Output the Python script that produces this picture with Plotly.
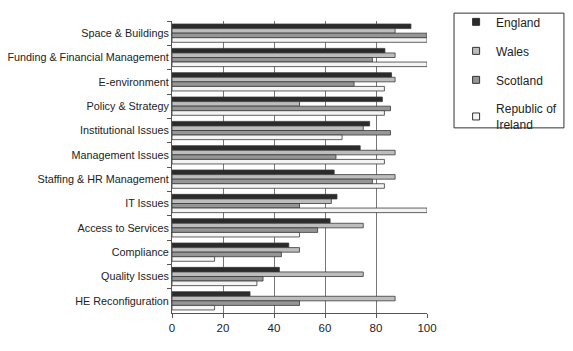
import plotly.graph_objects as go

categories = ["Space & Buildings", "Funding & Financial Management", "E-environment",
              "Policy & Strategy", "Institutional Issues", "Management Issues",
              "Staffing & HR Management", "IT Issues", "Access to Services",
              "Compliance", "Quality Issues", "HE Reconfiguration"]
england = [93.7, 83.5, 86.1, 82.5, 77.5, 73.8, 63.6, 64.7, 62.0, 45.8, 42.1, 30.6]
wales = [87.5, 87.5, 87.5, 50.0, 75.0, 87.5, 87.5, 62.5, 75.0, 50.0, 75.0, 87.5]
scotland = [100.0, 78.6, 71.4, 85.7, 85.7, 64.3, 78.6, 50.0, 57.1, 42.9, 35.7, 50.0]
ireland = [100.0, 100.0, 83.3, 83.3, 66.7, 83.3, 83.3, 100.0, 50.0, 16.7, 33.3, 16.7]

series = [("England", england, "#2b2b2b"),
          ("Wales", wales, "#bdbdbd"),
          ("Scotland", scotland, "#969696"),
          ("Republic of<br>Ireland", ireland, "#f4f4f4")]

fig = go.Figure()
for i, (name, vals, col) in enumerate(series):
    fig.add_trace(go.Bar(y=categories, x=vals, name=name, orientation="h",
                         marker=dict(color=col, line=dict(color="#3a3a3a", width=0.8)),
                         showlegend=False))
for i, (name, vals, col) in enumerate(series):
    fig.add_trace(go.Scatter(x=[None], y=[None], mode="markers", name=name,
                             marker=dict(symbol="square", size=7, color=col,
                                         line=dict(color="#333", width=1)),
                             legendgroup=str(i)))

fig.add_shape(type="rect", xref="paper", yref="paper",
              x0=1.106, x1=1.537, y0=0.634, y1=1.027,
              line=dict(color="#333", width=1), fillcolor="rgba(0,0,0,0)")

fig.update_layout(
    width=573, height=351,
    margin=dict(l=172, r=146, t=21, b=38),
    paper_bgcolor="white", plot_bgcolor="white",
    barmode="group", bargap=0.25, bargroupgap=0,
    font=dict(family="Liberation Sans, Arial, sans-serif", size=11, color="#222"),
    showlegend=True,
    legend=dict(xref="container", yref="container", x=0.796, y=0.979,
                xanchor="left", yanchor="top",
                borderwidth=0, bgcolor="rgba(0,0,0,0)",
                tracegroupgap=10, font=dict(size=12), itemwidth=30,
                traceorder="grouped"),
    xaxis=dict(range=[0, 100], tickvals=[0, 20, 40, 60, 80, 100],
               showgrid=True, gridcolor="#777", gridwidth=1,
               showline=True, linecolor="#555", ticks="outside", ticklen=4,
               tickcolor="#555", zeroline=False, tickfont=dict(size=11.5)),
    yaxis=dict(autorange="reversed", showline=True, linecolor="#555",
               ticks="outside", ticklen=4, tickcolor="#555", tickson="boundaries",
               showgrid=False, tickfont=dict(size=10.8), automargin=False),
)
fig.write_html("out.html")
